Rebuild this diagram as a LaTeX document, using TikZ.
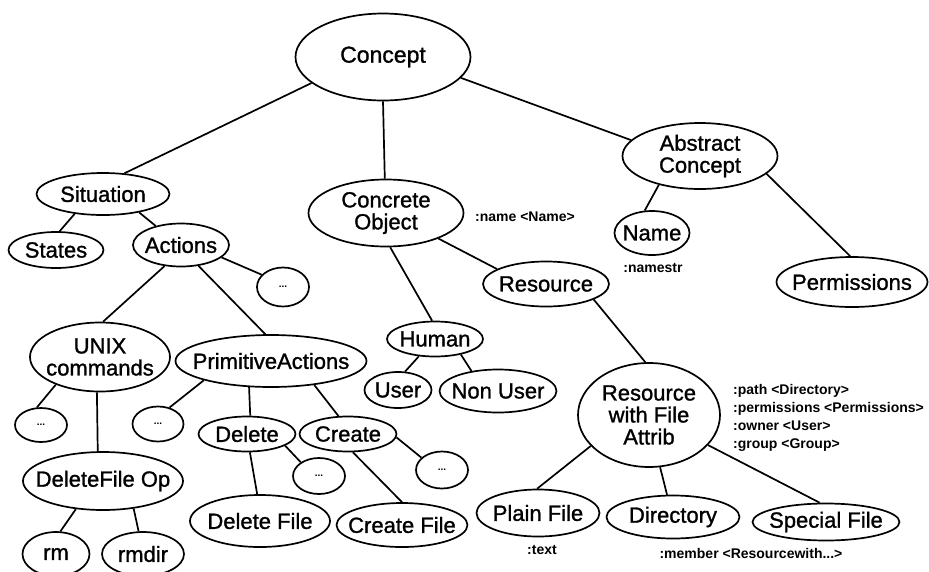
\documentclass[tikz,border=0pt]{standalone}
\usepackage{fontspec}
\setmainfont{Liberation Sans}
\newfontfamily\heavyfont[FakeBold=1.2]{Liberation Sans}
\usetikzlibrary{shapes.geometric}
\tikzset{
  ov/.style={ellipse, draw, line width=1.7pt, inner sep=0pt},
  lab/.style={font=\heavyfont\fontsize{22}{22}\selectfont, align=center, inner sep=0pt},
  biglab/.style={font=\heavyfont\fontsize{23}{23}\selectfont, align=center, inner sep=0pt},
  dots/.style={ov, font=\bfseries\fontsize{10}{10}\selectfont},
  small/.style={font=\bfseries\fontsize{14}{18}\selectfont, inner sep=0pt, align=left},
  conn/.style={line width=1.7pt},
}
\newcommand\ovnode[5]{\node[ov, minimum width=#3pt, minimum height=#4pt, label={[lab]center:{#5}}] (#1) at #2 {};}
\begin{document}
\begin{tikzpicture}[x=1pt,y=-1pt]
\useasboundingbox (0,0) rectangle (929,571);
% nodes
\node[ov, minimum width=175pt, minimum height=87pt, label={[biglab]center:Concept}] (Concept) at (383,57) {};
\ovnode{Situation}{(103,194)}{133}{42}{Situation}
\ovnode{States}{(56,250)}{95}{36}{States}
\ovnode{Actions}{(181,245)}{96}{43}{Actions}
\node[dots, minimum width=52pt, minimum height=39pt] (d1) at (283,287) {...};
\ovnode{Concrete}{(386,213)}{155}{67}{Concrete\\Object}
\ovnode{Abstract}{(700,156)}{155}{66}{Abstract\\Concept}
\ovnode{Name}{(652,233)}{75}{44}{Name}
\ovnode{Resource}{(546,284)}{126}{45}{Resource}
\ovnode{Permissions}{(852,282)}{151}{50}{Permissions}
\ovnode{UNIX}{(100,357)}{140}{69}{UNIX\\commands}
\ovnode{Prim}{(271,361)}{191}{52}{PrimitiveActions}
\ovnode{Human}{(435,339)}{96}{35}{Human}
\ovnode{User}{(398,390)}{67}{36}{User}
\ovnode{NonUser}{(498,391)}{117}{43}{Non User}
\node[dots, minimum width=52pt, minimum height=34pt] (d2) at (41,425) {...};
\node[dots, minimum width=51pt, minimum height=35pt] (d3) at (158,424) {...};
\ovnode{Delete}{(247,434)}{97}{35}{Delete}
\ovnode{Create}{(348,434)}{97}{35}{Create}
\node[dots, minimum width=52pt, minimum height=36pt] (d4) at (319,476) {...};
\node[dots, minimum width=52pt, minimum height=37pt] (d5) at (442,470) {...};
\ovnode{DFO}{(103,481)}{160}{58}{DeleteFile Op}
\ovnode{DelFile}{(260,521)}{140}{52}{Delete File}
\ovnode{CreFile}{(402,525)}{131}{44}{Create File}
\ovnode{rm}{(56,554)}{67}{44}{rm}
\ovnode{rmdir}{(143,554)}{82}{44}{rmdir}
\ovnode{RWFA}{(649,415)}{142}{104}{Resource\\with File\\Attrib}
\ovnode{Plain}{(538,513)}{123}{47}{Plain File}
\ovnode{Dir}{(673,517)}{133}{43}{Directory}
\ovnode{Special}{(826,522)}{147}{37}{Special File}
% small texts
\node[small] (tname) at (525,217) {:name <Name>};
\node[small] (tnamestr) at (653,268) {:namestr};
\node[small] (ttext) at (542,550) {:text};
\node[small] (tmember) at (751,553) {:member <Resourcewith...>};
\node[small, anchor=north west] (tattr) at (733,384) {:path <Directory>\\:permissions <Permissions>\\:owner <User>\\:group <Group>};
% connectors
\draw[conn] (Concept.200) -- (Situation.44);
\draw[conn] (Concept.south) -- (Concrete.92);
\draw[conn] (Concept.-15) -- (Abstract.167);
\draw[conn] (Situation.215) -- (States.79);
\draw[conn] (Situation.333) -- (Actions.143);
\draw[conn] (Actions.343) -- (d1.150);
\draw[conn] (Actions.232) -- (UNIX.85);
\draw[conn] (Actions.310) -- (Prim.102);
\draw[conn] (UNIX.212) -- (d2.103);
\draw[conn] (UNIX.265) -- (DFO.100);
\draw[conn] (DFO.226) -- (rm.79);
\draw[conn] (DFO.318) -- (rmdir.101);
\draw[conn] (Prim.196) -- (d3.55);
\draw[conn] (Prim.230) -- (Delete.80);
\draw[conn] (Prim.331) -- (Create.118);
\draw[conn] (Delete.343) -- (d4.143);
\draw[conn] (Delete.279) -- (DelFile.96);
\draw[conn] (Create.356) -- (d5.149);
\draw[conn] (Create.285) -- (CreFile.90);
\draw[conn] (Concrete.277) -- (Human.99);
\draw[conn] (Concrete.334) -- (Resource.163);
\draw[conn] (Human.227) -- (User.69);
\draw[conn] (Human.329) -- (NonUser.143);
\draw[conn] (Resource.342) -- (RWFA.94);
\draw[conn] (Abstract.215) -- (Name.108);
\draw[conn] (Abstract.345) -- (Permissions.94);
\draw[conn] (RWFA.208) -- (Plain.92);
\draw[conn] (RWFA.282) -- (Dir.105);
\draw[conn] (RWFA.333) -- (Special.108);
\end{tikzpicture}
\end{document}
